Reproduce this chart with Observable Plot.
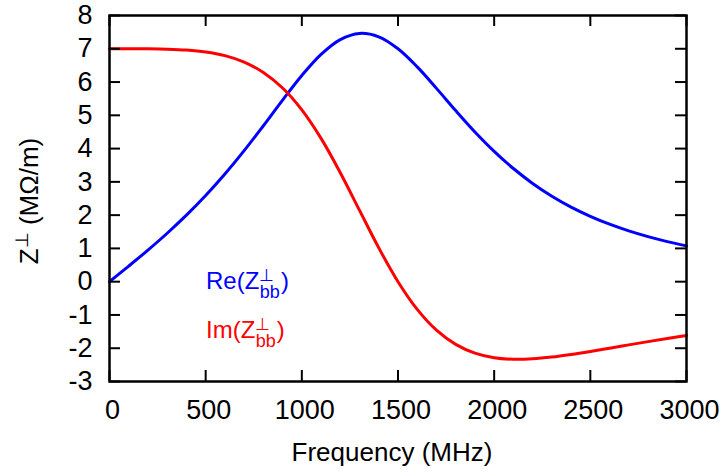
<!DOCTYPE html>
<html><head><meta charset="utf-8">
<script src="https://cdn.jsdelivr.net/npm/d3@7"></script>
<script src="https://cdn.jsdelivr.net/npm/@observablehq/plot@0.6"></script>
<style>
body{margin:0;background:#fff}
svg{font-family:"Liberation Sans",Arial,Helvetica,sans-serif}
</style>
</head><body><div id="chart"></div>
<script>
// Frequency (MHz)
const freq = [0,100,200,300,400,500,600,700,800,900,1000,1100,1200,1300,1400,1500,1600,1700,1800,1900,2000,2100,2200,2300,2400,2500,2600,2700,2800,2900,3000];
// Re(Z⊥bb) (MΩ/m)
const reZ = [0,0.469,0.950,1.456,1.999,2.589,3.235,3.937,4.687,5.457,6.197,6.831,7.277,7.462,7.360,7.000,6.455,5.810,5.142,4.501,3.917,3.401,2.953,2.570,2.243,1.965,1.728,1.526,1.353,1.205,1.077];
// Im(Z⊥bb) (MΩ/m)
const imZ = [7.000,7.000,6.998,6.988,6.962,6.904,6.793,6.600,6.289,5.821,5.164,4.306,3.274,2.143,1.016,0,-0.834,-1.458,-1.885,-2.148,-2.285,-2.332,-2.318,-2.265,-2.187,-2.096,-1.998,-1.899,-1.801,-1.706,-1.615];
const xTicks = [0,500,1000,1500,2000,2500,3000];
const yTicks = [-3,-2,-1,0,1,2,3,4,5,6,7,8];

const rows = freq.map((f,i)=>({f, re:reZ[i], im:imZ[i]}));

const W=724,H=475,mL=109,mR=38,mT=15,mB=94;
const pw=W-mL-mR, ph=H-mT-mB, tl=11;
const font = '"Liberation Sans",Arial,Helvetica,sans-serif';

const chart = Plot.plot({
  width:W,height:H,marginLeft:mL,marginRight:mR,marginTop:mT,marginBottom:mB,
  style:{fontFamily:font,fontSize:"27px",color:"black",background:"white"},
  x:{domain:[0,3000]},
  y:{domain:[-3,8]},
  marks:[
    Plot.line(rows,{x:"f",y:"re",stroke:"#0000ff",strokeWidth:3,curve:"catmull-rom"}),
    Plot.line(rows,{x:"f",y:"im",stroke:"#ff0000",strokeWidth:3,curve:"catmull-rom"}),
    Plot.tickX(xTicks,{x:d=>d,insetTop:ph-tl,stroke:"black",strokeWidth:2}),
    Plot.tickX(xTicks,{x:d=>d,insetBottom:ph-tl,stroke:"black",strokeWidth:2}),
    Plot.tickY(yTicks,{y:d=>d,insetRight:pw-tl,stroke:"black",strokeWidth:2}),
    Plot.tickY(yTicks,{y:d=>d,insetLeft:pw-tl,stroke:"black",strokeWidth:2}),
    Plot.frame({stroke:"black",strokeWidth:2.5}),
    Plot.axisX(xTicks,{tickSize:0,tickPadding:18,dx:3,label:null,tickFormat:d=>String(d),fontSize:27}),
    Plot.axisY(yTicks,{tickSize:0,tickPadding:17,label:null,tickFormat:d=>String(d),fontSize:27})
  ]
});
document.getElementById("chart").appendChild(chart);

const svg = d3.select(chart);

// X axis title
svg.append("text").attr("x",392).attr("y",461).attr("text-anchor","middle")
  .attr("font-size",26).attr("fill","black").text("Frequency (MHz)");

// Y axis title (rotated) with superscript
const yt = svg.append("text").attr("transform","translate(38,201) rotate(-90)")
  .attr("text-anchor","middle").attr("font-size",26).attr("fill","black");
yt.append("tspan").text("Z");
yt.append("tspan").attr("font-size",18).attr("dy",-10).text("⊥");
yt.append("tspan").attr("dy",10).text(" (MΩ/m)");

// Legend labels
function label(x0, y0, name, color){
  const g = svg.append("g").attr("fill",color).attr("font-size",24).attr("text-anchor","start");
  const t1 = g.append("text").attr("x",x0).attr("y",y0).text(name+"(Z");
  const L = t1.node().getComputedTextLength();
  g.append("text").attr("x",x0+L).attr("y",y0-8).attr("font-size",17).text("⊥");
  const t3 = g.append("text").attr("x",x0+L+0.5).attr("y",y0+9).attr("font-size",18).text("bb");
  const L3 = t3.node().getComputedTextLength();
  g.append("text").attr("x",x0+L+L3+1.5).attr("y",y0).text(")");
}
label(206, 289, "Re", "#0000ff");
label(206, 338, "Im", "#ff0000");
</script>
</body></html>
